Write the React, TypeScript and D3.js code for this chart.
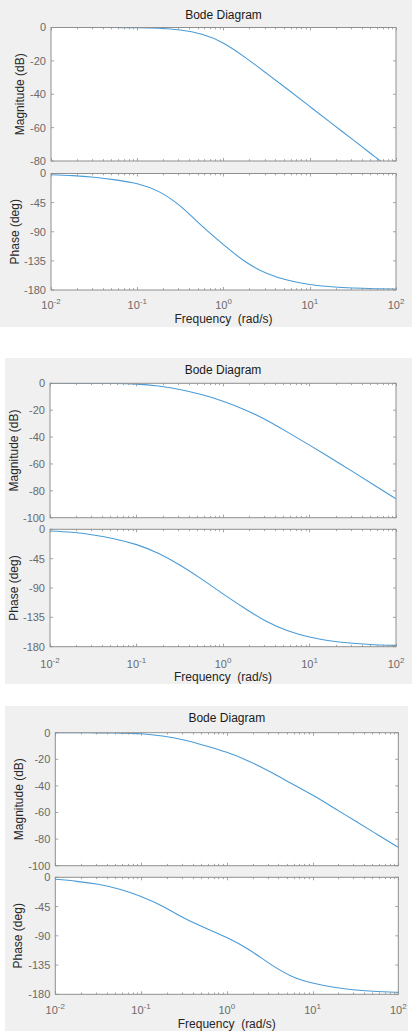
import * as d3 from "d3";

// frequencies (rad/s), quarter-decade samples
const freqs = [0.01, 0.0178, 0.0316, 0.0562, 0.1, 0.178, 0.316, 0.562, 1, 1.78, 3.16, 5.62, 10, 17.8, 31.6, 56.2, 100];

// diagram 1
const mag1 = [0, 0, -0.01, -0.04, -0.13, -0.45, -1.5, -4.1, -9.4, -17.9, -27.5, -37.3, -47.3, -57.3, -67.2, -77.2, -87.2];
const phase1 = [-2, -3.3, -5.8, -9.8, -15.8, -28, -50.5, -81, -110, -136, -154, -165, -171.5, -175, -177, -178, -178.5];

// diagram 2
const mag2 = [0, -0.02, -0.07, -0.2, -0.65, -2.0, -4.6, -8.4, -13.3, -19.6, -27.3, -36.5, -46, -55.8, -65.7, -75.8, -86.0];
const phase2 = [-2.6, -4.6, -8.7, -14.8, -23.5, -36.8, -54.7, -76, -99, -121, -141, -155.5, -165.2, -171.2, -174.8, -176.9, -178];

// diagram 3
const mag3 = [0, -0.03, -0.1, -0.3, -0.75, -2.5, -5.5, -9.75, -14.75, -21.25, -29.25, -38, -46.9, -56.6, -66.4, -76.3, -86.2];
const phase3 = [-3.1, -6.2, -10.8, -18.5, -29.5, -44.6, -62.6, -77.9, -92.8, -110.8, -132.8, -151.8, -162.6, -169.2, -173.3, -175.6, -177];

const magTicksA = [0, -20, -40, -60, -80];
const magTicksB = [0, -20, -40, -60, -80, -100];
const phaseTicks = [0, -45, -90, -135, -180];
const decadeTicks = [0.01, 0.1, 1, 10, 100];

const TITLE = "Bode Diagram";
const XLABEL = "Frequency  (rad/s)";
const MAGLABEL = "Magnitude (dB)";
const PHLABEL = "Phase (deg)";

const panels = [
  { bg: [0, 0, 412, 327], left: 51, right: 396, magTop: 27.5, magBot: 161, phTop: 173.5, phBot: 290,
    magMin: -80, magTicks: magTicksA, titleY: 18.5, tickY: 308.5, xlabY: 322.5, magLabX: 24, phLabX: 18.5,
    mag: mag1, phase: phase1 },
  { bg: [5, 358, 407, 326], left: 50, right: 396, magTop: 383.3, magBot: 517.7, phTop: 529.3, phBot: 646.7,
    magMin: -100, magTicks: magTicksB, titleY: 373.5, tickY: 667.5, xlabY: 681, magLabX: 17.5, phLabX: 17.5,
    mag: mag2, phase: phase2 },
  { bg: [5, 706, 403, 325], left: 55.3, right: 398.3, magTop: 732.7, magBot: 865.7, phTop: 877.3, phBot: 994.3,
    magMin: -100, magTicks: magTicksB, titleY: 722, tickY: 1014, xlabY: 1028, magLabX: 22.5, phLabX: 22,
    mag: mag3, phase: phase3 },
];

const FONT = "'Liberation Sans', Arial, Helvetica, sans-serif";
const AXIS = "#8f8f8f";
const TICKTXT = "#6a6a6a";
const LINE = "#4a9bd6";

function Axes({ id, x, y0, y1, yMin, yMax, yTicks, values, labelX, label }: any) {
  const y = d3.scaleLinear().domain([yMin, yMax]).range([y1, y0]);
  const [l, r] = x.range();
  const line = d3.line<number>()
    .x((_, i) => x(freqs[i]))
    .y(v => y(v))
    .curve(d3.curveNatural);
  const minor = x.ticks();
  const isMajor = (t: number) => decadeTicks.some(d => Math.abs(d - t) < d * 1e-6);
  return (
    <g>
      <defs>
        <clipPath id={id}><rect x={l} y={y0} width={r - l} height={y1 - y0} /></clipPath>
      </defs>
      <rect x={l} y={y0} width={r - l} height={y1 - y0} fill="#fff" />
      <path d={line(values) ?? ""} fill="none" stroke={LINE} strokeWidth={1.1} clipPath={`url(#${id})`} />
      {minor.map((t: number, i: number) => {
        const len = isMajor(t) ? 3 : 1.8;
        const xx = Math.round(x(t)) + 0.5;
        return (
          <g key={i} stroke={AXIS} strokeWidth={0.8}>
            <line x1={xx} x2={xx} y1={y1} y2={y1 - len} />
            <line x1={xx} x2={xx} y1={y0} y2={y0 + len} />
          </g>
        );
      })}
      {yTicks.map((t: number) => (
        <g key={t}>
          <line x1={l} x2={l + 3} y1={y(t)} y2={y(t)} stroke={AXIS} strokeWidth={0.8} />
          <line x1={r} x2={r - 3} y1={y(t)} y2={y(t)} stroke={AXIS} strokeWidth={0.8} />
          <text x={l - 5} y={y(t)} dy="0.36em" textAnchor="end" fontSize={11} fill={TICKTXT}>{t}</text>
        </g>
      ))}
      <rect x={l} y={y0} width={r - l} height={y1 - y0} fill="none" stroke={AXIS} strokeWidth={1} />
      <text transform={`translate(${labelX},${(y0 + y1) / 2}) rotate(-90)`} textAnchor="middle"
        fontSize={12} fill="#262626">{label}</text>
    </g>
  );
}

export default function App() {
  return (
    <svg width={412} height={1031} viewBox="0 0 412 1031"
      style={{ position: "absolute", left: 0, top: 0, display: "block", background: "#fff" }}
      fontFamily={FONT}>
      {panels.map((p, pi) => {
        const x = d3.scaleLog().domain([0.01, 100]).range([p.left, p.right]);
        const cx = (p.left + p.right) / 2;
        return (
          <g key={pi}>
            <rect x={p.bg[0]} y={p.bg[1]} width={p.bg[2]} height={p.bg[3]} fill="#f0f0f0" />
            <text x={cx} y={p.titleY} textAnchor="middle" fontSize={12} fill="#1a1a1a">{TITLE}</text>
            <Axes id={`mag${pi}`} x={x} y0={p.magTop} y1={p.magBot} yMin={p.magMin} yMax={0}
              yTicks={p.magTicks} values={p.mag} labelX={p.magLabX} label={MAGLABEL} />
            <Axes id={`ph${pi}`} x={x} y0={p.phTop} y1={p.phBot} yMin={-180} yMax={0}
              yTicks={phaseTicks} values={p.phase} labelX={p.phLabX} label={PHLABEL} />
            {decadeTicks.map(t => (
              <text key={t} x={x(t)} y={p.tickY} textAnchor="middle" fontSize={11} fill={TICKTXT}>
                <tspan>10</tspan>
                <tspan dy={-5} fontSize={8}>{Math.round(Math.log10(t))}</tspan>
              </text>
            ))}
            <text x={cx} y={p.xlabY} textAnchor="middle" fontSize={12} fill="#262626"
              style={{ whiteSpace: "pre" }}>{XLABEL}</text>
          </g>
        );
      })}
    </svg>
  );
}
